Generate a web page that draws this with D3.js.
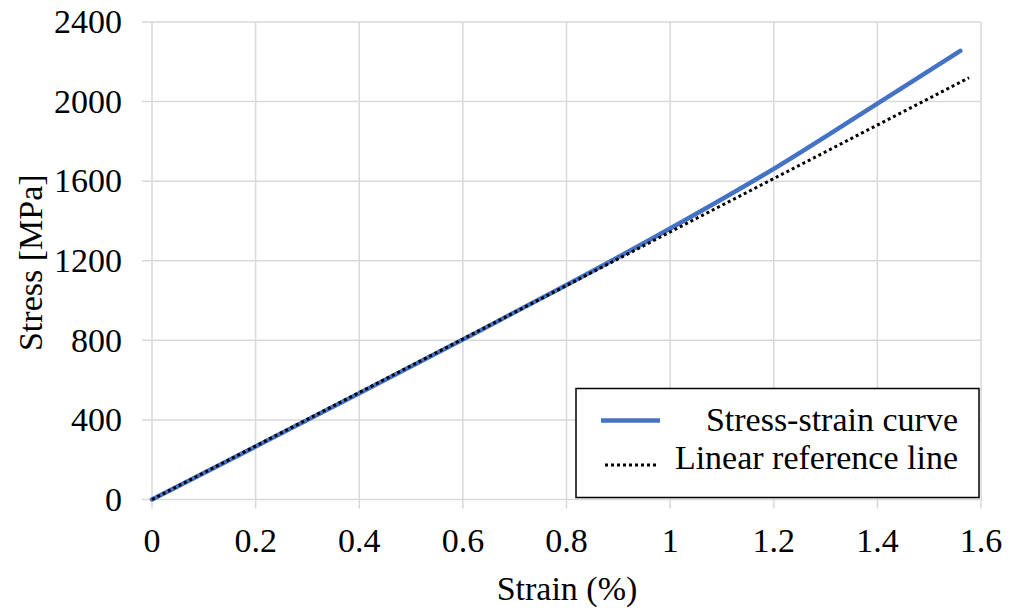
<!DOCTYPE html>
<html><head><meta charset="utf-8">
<script src="https://cdn.jsdelivr.net/npm/d3@7"></script>
</head>
<body style="margin:0">
<svg id="chart" width="1010" height="610"></svg>
<script>
const strainCurve = [0, 0.2, 0.4, 0.6, 0.8, 1.0, 1.2, 1.4, 1.56];
const stressCurve = [0, 266, 534, 804, 1078, 1362, 1662, 1990, 2255];
const strainLinear = [0, 1.577];
const stressLinear = [0, 2120];
const xTicks = [0, 0.2, 0.4, 0.6, 0.8, 1, 1.2, 1.4, 1.6];
const yTicks = [0, 400, 800, 1200, 1600, 2000, 2400];
const seriesNames = ["Stress-strain curve", "Linear reference line"];

const svg = d3.select("#chart");
const L = 152, R = 981, T = 22, B = 499.5;
const x = d3.scaleLinear().domain([0, 1.6]).range([L, R]);
const y = d3.scaleLinear().domain([0, 2400]).range([B, T]);
const grid = "#d9d9d9";
function txt(sel) {
  return sel.style("font-family", `"Liberation Serif"`).attr("font-size", 34).attr("fill", "#000");
}

svg.append("g").selectAll("line").data(xTicks).join("line")
  .attr("x1", d => x(d)).attr("x2", d => x(d)).attr("y1", T).attr("y2", B + 9)
  .attr("stroke", grid).attr("stroke-width", 1.5);
svg.append("g").selectAll("line").data(yTicks).join("line")
  .attr("x1", L - 10).attr("x2", R).attr("y1", d => y(d)).attr("y2", d => y(d))
  .attr("stroke", grid).attr("stroke-width", 1.5);

txt(svg.append("g").selectAll("text").data(xTicks).join("text")
  .attr("x", d => x(d)).attr("y", 552).attr("text-anchor", "middle")).text(d => d3.format("")(d));
txt(svg.append("g").selectAll("text").data(yTicks).join("text")
  .attr("x", 122).attr("y", d => y(d)).attr("dy", "0.33em").attr("text-anchor", "end")).text(d => d);

txt(svg.append("text").attr("x", 567).attr("y", 600).attr("text-anchor", "middle")).text("Strain (%)");
txt(svg.append("text").attr("transform", `translate(42,${(T + B) / 2 + 2}) rotate(-90)`)
  .attr("text-anchor", "middle")).text("Stress [MPa]");

const curveData = strainCurve.map((s, i) => [s, stressCurve[i]]);
const linData = strainLinear.map((s, i) => [s, stressLinear[i]]);
svg.append("path").datum(curveData)
  .attr("d", d3.line().x(d => x(d[0])).y(d => y(d[1])).curve(d3.curveMonotoneX))
  .attr("fill", "none").attr("stroke", "#4472C4").attr("stroke-width", 4.5).attr("stroke-linecap", "round");
svg.append("path").datum(linData)
  .attr("d", d3.line().x(d => x(d[0])).y(d => y(d[1])))
  .attr("fill", "none").attr("stroke", "#000").attr("stroke-width", 3).attr("stroke-dasharray", "3,3");

const lg = svg.append("g");
lg.append("rect").attr("x", 576).attr("y", 388.5).attr("width", 403).attr("height", 109)
  .attr("fill", "#fff").attr("stroke", "#000").attr("stroke-width", 1.5);
lg.append("line").attr("x1", 601).attr("x2", 660).attr("y1", 420.5).attr("y2", 420.5)
  .attr("stroke", "#4472C4").attr("stroke-width", 4.5);
lg.append("line").attr("x1", 605).attr("x2", 657).attr("y1", 465).attr("y2", 465)
  .attr("stroke", "#000").attr("stroke-width", 3).attr("stroke-dasharray", "3,3");
txt(lg.append("text").attr("x", 958).attr("y", 431).attr("text-anchor", "end")).text(seriesNames[0]);
txt(lg.append("text").attr("x", 958).attr("y", 469).attr("text-anchor", "end")).text(seriesNames[1]);
</script>
</body></html>
